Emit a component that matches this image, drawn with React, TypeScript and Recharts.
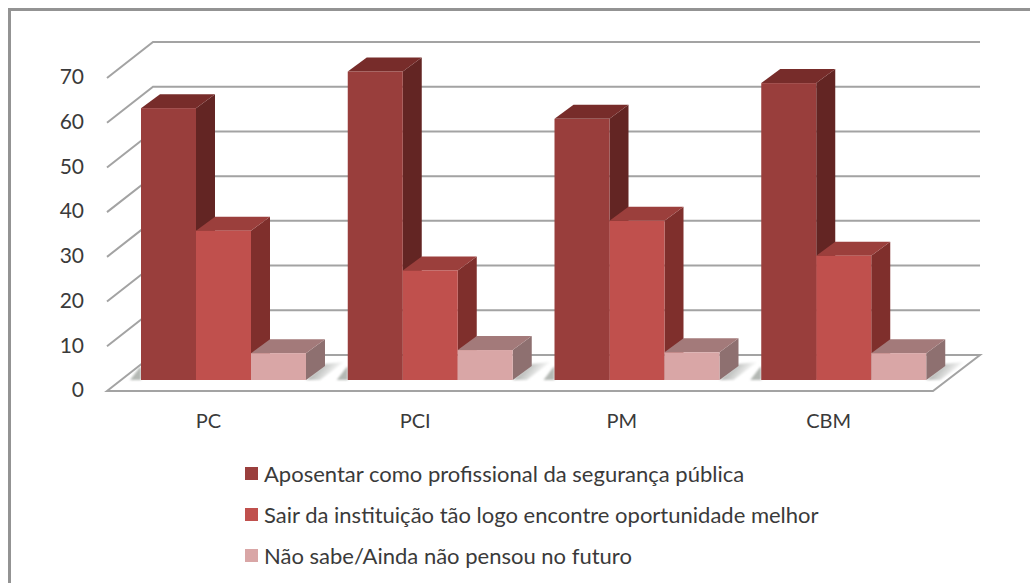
import React from "react";
import { BarChart, Bar, XAxis, YAxis, CartesianGrid, Legend } from "recharts";

const categories = ["PC", "PCI", "PM", "CBM"];
const aposentar = [60.8, 69, 58.4, 66.4];
const sair = [33.4, 24.5, 35.6, 27.8];
const naoSabe = [6, 6.7, 6.2, 6];
const yTicks = [0, 10, 20, 30, 40, 50, 60, 70];
const names = [
  "Aposentar como profissional da segurança pública",
  "Sair da instituição tão logo encontre oportunidade melhor",
  "Não sabe/Ainda não pensou no futuro",
];

const data = categories.map((c, i) => ({ c, a: aposentar[i], s: sair[i], n: naoSabe[i] }));

const FONT = "Lato, 'Open Sans', sans-serif";
const TEXT = "#3a3a3a";
const GRID = "#a3a3a3";
const DX = 19;
const DY = -14;

const makeBox = (front: string, side: string, top: string, last: boolean, first: boolean) => (p: any) => {
  const { x, y, width: w, height: h } = p;
  const b = y + h;
  return (
    <g>
      {first && (
        <polygon
          points={`${x},${b} ${x - 11},${b} ${x - 1},${b - 13} ${x},${b - 13}`}
          fill="#b4b8b4"
          filter="url(#soft)"
        />
      )}
      {last && (
        <polygon
          points={`${x + w},${b} ${x + w + 19},${b - 16} ${x + w + 38},${b - 18} ${x + w + 14},${b}`}
          fill="url(#floorShadow)"
          filter="url(#soft)"
        />
      )}
      <polygon points={`${x + w},${y} ${x + w + DX},${y + DY} ${x + w + DX},${b + DY} ${x + w},${b}`} fill={side} />
      <polygon points={`${x},${y} ${x + DX},${y + DY} ${x + w + DX},${y + DY} ${x + w},${y}`} fill={top} />
      <rect x={x} y={y} width={w} height={h} fill={front} />
    </g>
  );
};

const gridLine = (p: any) => {
  const { x1, y1 } = p;
  const floor = Math.abs(y1 - 380) < 1;
  const fx = x1 - 13;
  return (
    <g key={p.key}>
      {floor && (
        <polygon
          points={`${fx},${y1 + 11} ${x1 + 33},${y1 - 25} ${x1 + 860},${y1 - 25} ${x1 + 813},${y1 + 11}`}
          fill="#ffffff"
          stroke={GRID}
          strokeWidth={2}
        />
      )}
      {!floor && (
        <polyline
          points={`${fx},${y1 + 11} ${x1 + 33},${y1 - 25} ${x1 + 860},${y1 - 25}`}
          fill="none"
          stroke={GRID}
          strokeWidth={2}
        />
      )}
    </g>
  );
};

const YTick = (p: any) => (
  <text x={p.x - 28} y={p.y + 12} textAnchor="end" dominantBaseline="middle" fontFamily={FONT} fontSize={21} fill={TEXT}>
    {p.payload.value}
  </text>
);

const XTick = (p: any) => (
  <text x={p.x - 15} y={p.y + 35} textAnchor="middle" dominantBaseline="middle" fontFamily={FONT} fontSize={20} fill={TEXT}>
    {p.payload.value}
  </text>
);

const LegendBody = (p: any) => (
  <div>
    {(p.payload || []).map((e: any) => (
      <div key={e.value} style={{ display: "flex", alignItems: "center", height: 41, fontFamily: FONT, fontSize: 22, color: TEXT, whiteSpace: "nowrap" }}>
        <span style={{ width: 13, height: 13, background: e.color, marginRight: 6, display: "inline-block" }} />
        {e.value}
      </div>
    ))}
  </div>
);

export default function App() {
  return (
    <div style={{ position: "absolute", left: 0, top: 0, width: 1030, height: 583, overflow: "hidden", background: "#fff" }}>
      <div style={{ position: "absolute", left: 8, top: 8, width: 1100, height: 640, border: "3px solid #939393" }} />
      <BarChart
        width={1030}
        height={583}
        data={data}
        barGap={0}
        barSize={55}
        margin={{ top: 67, bottom: 163, left: 60, right: 83 }}
        style={{ position: "absolute", left: 0, top: 0 }}
      >
        <defs>
          <linearGradient id="floorShadow" x1="0" y1="0" x2="1" y2="0.4">
            <stop offset="0" stopColor="#7f837f" />
            <stop offset="0.9" stopColor="#ffffff" />
          </linearGradient>
          <filter id="soft" x="-30%" y="-30%" width="160%" height="160%">
            <feGaussianBlur stdDeviation="1.2" />
          </filter>
        </defs>
        <CartesianGrid vertical={false} horizontal={gridLine} />
        <XAxis dataKey="c" axisLine={false} tickLine={false} tick={XTick} height={40} interval={0} />
        <YAxis domain={[0, 70]} ticks={yTicks} axisLine={false} tickLine={false} tick={YTick} width={60} interval={0} />
        <Legend
          layout="vertical"
          align="center"
          verticalAlign="middle"
          itemSorter={null}
          content={LegendBody}
          wrapperStyle={{ position: "absolute", left: 245, top: 453, width: 700, margin: 0 }}
        />
        <Bar dataKey="a" name={names[0]} fill="#9a3f3d" isAnimationActive={false} shape={makeBox("#993e3c", "#632523", "#772c2a", false, true)} />
        <Bar dataKey="s" name={names[1]} fill="#c0504d" isAnimationActive={false} shape={makeBox("#c0504d", "#7f2f2c", "#9b3f3c", false, false)} />
        <Bar dataKey="n" name={names[2]} fill="#d9a6a6" isAnimationActive={false} shape={makeBox("#d9a6a6", "#8e7070", "#a37a7a", true, false)} />
      </BarChart>
    </div>
  );
}
